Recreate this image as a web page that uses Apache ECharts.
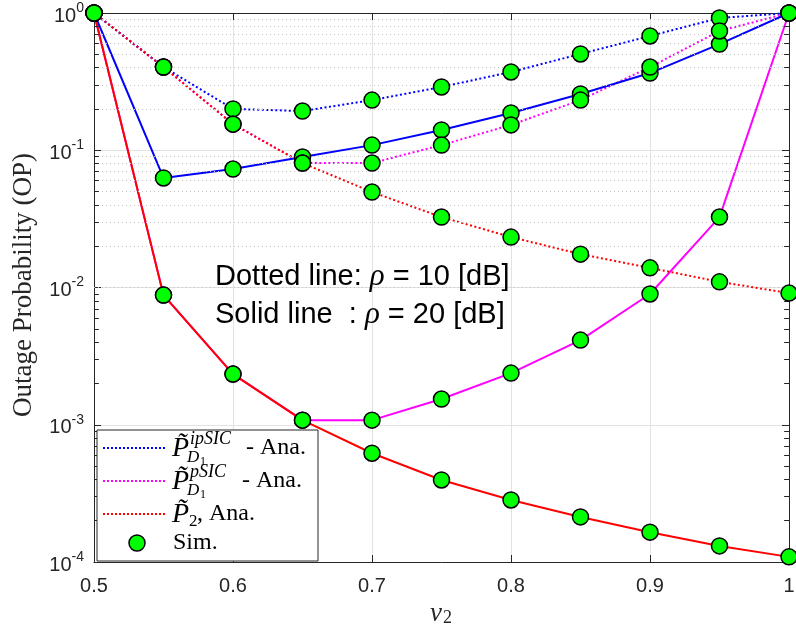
<!DOCTYPE html>
<html>
<head>
<meta charset="utf-8">
<title>Outage Probability</title>
<script src="https://cdn.jsdelivr.net/npm/echarts@6/dist/echarts.min.js"></script>
<style>
html,body{margin:0;padding:0;background:#fff;}
#chart{width:796px;height:632px;}
</style>
</head>
<body>
<div id="chart"></div>
<script>
// nu2 values on x axis
var nu2 = [0.5, 0.55, 0.6, 0.65, 0.7, 0.75, 0.8, 0.85, 0.9, 0.95, 1];
// P_D1 ipSIC, rho = 10 dB (dotted) / 20 dB (solid)
var ipsic10 = [1, 0.404, 0.200, 0.193, 0.232, 0.289, 0.372, 0.503, 0.680, 0.920, 1];
var ipsic20 = [1, 0.0628, 0.0730, 0.0893, 0.109, 0.1405, 0.187, 0.257, 0.365, 0.594, 1];
// P_D1 pSIC
var psic10 = [1, 0.404, 0.155, 0.0807, 0.0807, 0.109, 0.153, 0.232, 0.404, 0.740, 1];
var psic20 = [1, 0.0088, 0.00234, 0.00108, 0.00108, 0.00154, 0.00238, 0.00414, 0.00897, 0.0326, 1];
// P_2
var p2rho10 = [1, 0.404, 0.155, 0.0807, 0.0496, 0.0326, 0.0233, 0.0175, 0.0139, 0.0110, 0.0091];
var p2rho20 = [1, 0.0088, 0.00234, 0.00108, 0.00062, 0.000396, 0.000283, 0.000213, 0.000165, 0.000131, 0.000109];
// minor grid values per decade
var minorSteps = [2, 3, 4, 5, 6, 7, 8, 9];
var decades = [1e-4, 1e-3, 1e-2, 1e-1];

var sans = '"Liberation Sans", Arial, sans-serif';
var serif = '"Liberation Serif", "Times New Roman", serif';
var axisCol = '#262626';

function pairs(ys) {
    return nu2.map(function (x, i) { return [x, ys[i]]; });
}

// dotted minor grid + small inside ticks on left/right
var minorLines = [];
decades.forEach(function (d) {
    minorSteps.forEach(function (k) {
        var v = k * d;
        minorLines.push({ yAxis: v, lineStyle: { type: [1, 3], color: '#c4c4c4', width: 1 } });
        minorLines.push([{ coord: [0.5, v], lineStyle: { type: 'solid', color: axisCol, width: 1 } }, { coord: [0.5035, v] }]);
        minorLines.push([{ coord: [0.9965, v], lineStyle: { type: 'solid', color: axisCol, width: 1 } }, { coord: [1, v] }]);
    });
});

function lineSeries(name, ys, color, dotted, extra) {
    var s = {
        name: name,
        type: 'line',
        data: pairs(ys),
        symbol: 'none',
        showSymbol: false,
        animation: false,
        lineStyle: { color: color, width: 2, type: dotted ? [2, 2.5] : 'solid' },
        z: 3
    };
    if (extra) s.markLine = extra;
    return s;
}

var simPoints = [].concat(pairs(ipsic10), pairs(ipsic20), pairs(psic10), pairs(psic20), pairs(p2rho10), pairs(p2rho20));

var myChart = echarts.init(document.getElementById('chart'));

var legendX = 97, legendY = 430, legendW = 221, legendH = 131;
var rows = [448, 481, 514, 543];

function txt(x, y, s, size, italic, align, fam) {
    return {
        type: 'text', x: x, y: y, z: 101,
        style: {
            text: s, fontSize: size, fontFamily: fam || serif,
            fontStyle: italic ? 'italic' : 'normal',
            fill: '#000', align: align || 'left', verticalAlign: 'middle'
        }
    };
}
function sample(y, color) {
    return {
        type: 'line', z: 101,
        shape: { x1: 103, y1: y, x2: 166, y2: y },
        style: { stroke: color, lineWidth: 2, lineDash: [2, 2] }
    };
}

var graphics = [
    { type: 'rect', z: 100, shape: { x: legendX, y: legendY, width: legendW, height: legendH },
      style: { fill: '#fff', stroke: axisCol, lineWidth: 1 } },
    sample(rows[0], '#0000ff'),
    sample(rows[1], '#ff00ff'),
    sample(rows[2], '#ff0000'),
    { type: 'circle', z: 101, shape: { cx: 137, cy: rows[3], r: 8 },
      style: { fill: '#00ff00', stroke: '#000', lineWidth: 1.5 } },
    // row 1
    txt(172, rows[0] + 1, 'P\u0303', 28, true),
    txt(190, rows[0] - 9, 'ipSIC', 18, true),
    txt(187, rows[0] + 10, 'D', 17, true),
    txt(200, rows[0] + 14, '1', 12, false),
    txt(246, rows[0], '- Ana.', 24, false),
    // row 2
    txt(172, rows[1] + 1, 'P\u0303', 28, true),
    txt(190, rows[1] - 9, 'pSIC', 18, true),
    txt(187, rows[1] + 10, 'D', 17, true),
    txt(200, rows[1] + 14, '1', 12, false),
    txt(242, rows[1], '- Ana.', 24, false),
    // row 3
    txt(172, rows[2] + 1, 'P\u0303', 28, true),
    txt(189, rows[2] + 8, '2', 17, false),
    txt(197, rows[2], ', Ana.', 24, false),
    // row 4
    txt(173, rows[3], 'Sim.', 24, false),
    // annotation
    { type: 'text', x: 215, y: 277, z: 50,
      style: { text: '{a|Dotted line: }{r|\u03c1}{a| = 10 [dB]}', verticalAlign: 'middle',
        rich: { a: { fontSize: 29, fontFamily: sans, fill: '#000' },
                r: { fontSize: 31, fontFamily: serif, fontStyle: 'italic', fill: '#000' } } } },
    { type: 'text', x: 215, y: 315, z: 50,
      style: { text: '{a|Solid line  : }{r|\u03c1}{a| = 20 [dB]}', verticalAlign: 'middle',
        rich: { a: { fontSize: 29, fontFamily: sans, fill: '#000' },
                r: { fontSize: 31, fontFamily: serif, fontStyle: 'italic', fill: '#000' } } } },
    // y axis title
    { type: 'text', x: 24, y: 285, rotation: Math.PI / 2,
      style: { text: 'Outage Probability (OP)', align: 'center', verticalAlign: 'middle',
        fontSize: 27, fontFamily: serif, fill: axisCol } },
    // x axis title
    { type: 'text', x: 441, y: 614,
      style: { text: '{v|\u03bd}{s|2}', align: 'center', verticalAlign: 'middle',
        rich: { v: { fontSize: 27, fontFamily: serif, fontStyle: 'italic', fill: axisCol, verticalAlign: 'bottom' },
                s: { fontSize: 18, fontFamily: serif, fill: axisCol, verticalAlign: 'bottom', padding: [0, 0, 0, 1] } } } }
];

var option = {
    animation: false,
    grid: { left: 94, right: 7, top: 13, bottom: 70, containLabel: false, outerBoundsMode: 'none' },
    xAxis: [
        {
            type: 'value', min: 0.5, max: 1, interval: 0.1, position: 'bottom',
            axisLine: { show: true, onZero: false, lineStyle: { color: axisCol, width: 1 } },
            axisTick: { inside: true, length: 7, lineStyle: { color: axisCol } },
            axisLabel: { fontSize: 20, fontFamily: sans, color: axisCol, margin: 14 },
            splitLine: { show: true, lineStyle: { color: '#e2e2e2', width: 1 } }
        },
        {
            type: 'value', min: 0.5, max: 1, interval: 0.1, position: 'top',
            axisLine: { show: true, onZero: false, lineStyle: { color: axisCol, width: 1 } },
            axisTick: { inside: true, length: 7, lineStyle: { color: axisCol } },
            axisLabel: { show: false },
            splitLine: { show: false }
        }
    ],
    yAxis: [
        {
            type: 'log', logBase: 10, min: 1e-4, max: 1, position: 'left',
            axisLine: { show: true, onZero: false, lineStyle: { color: axisCol, width: 1 } },
            axisTick: { inside: true, length: 7, lineStyle: { color: axisCol } },
            axisLabel: {
                margin: 10, color: axisCol, padding: [6, 0, 0, 0],
                formatter: function (v) {
                    return '{b|10}{e|' + Math.round(Math.log10(v)) + '}';
                },
                rich: {
                    b: { fontSize: 20, fontFamily: sans, color: axisCol, lineHeight: 20, verticalAlign: 'bottom' },
                    e: { fontSize: 14, fontFamily: sans, color: axisCol, lineHeight: 14, verticalAlign: 'bottom', padding: [0, 0, 11, 0] }
                }
            },
            splitLine: { show: true, lineStyle: { color: '#e2e2e2', width: 1 } }
        },
        {
            type: 'log', logBase: 10, min: 1e-4, max: 1, position: 'right',
            axisLine: { show: true, onZero: false, lineStyle: { color: axisCol, width: 1 } },
            axisTick: { inside: true, length: 7, lineStyle: { color: axisCol } },
            axisLabel: { show: false },
            splitLine: { show: false }
        }
    ],
    series: [
        lineSeries('psic20', psic20, '#ff00ff', false, {
            silent: true, symbol: ['none', 'none'], label: { show: false }, animation: false,
            data: minorLines
        }),
        lineSeries('psic10', psic10, '#ff00ff', true),
        lineSeries('ipsic10', ipsic10, '#0000ff', true),
        lineSeries('ipsic20', ipsic20, '#0000ff', false),
        lineSeries('p2rho10', p2rho10, '#ff0000', true),
        lineSeries('p2rho20', p2rho20, '#ff0000', false),
        {
            name: 'Sim.', type: 'scatter', data: simPoints, symbol: 'circle', symbolSize: 16,
            itemStyle: { color: '#00ff00', borderColor: '#000', borderWidth: 1.5, opacity: 1 },
            z: 10, animation: false
        }
    ],
    graphic: graphics
};
myChart.setOption(option);
</script>
</body>
</html>
